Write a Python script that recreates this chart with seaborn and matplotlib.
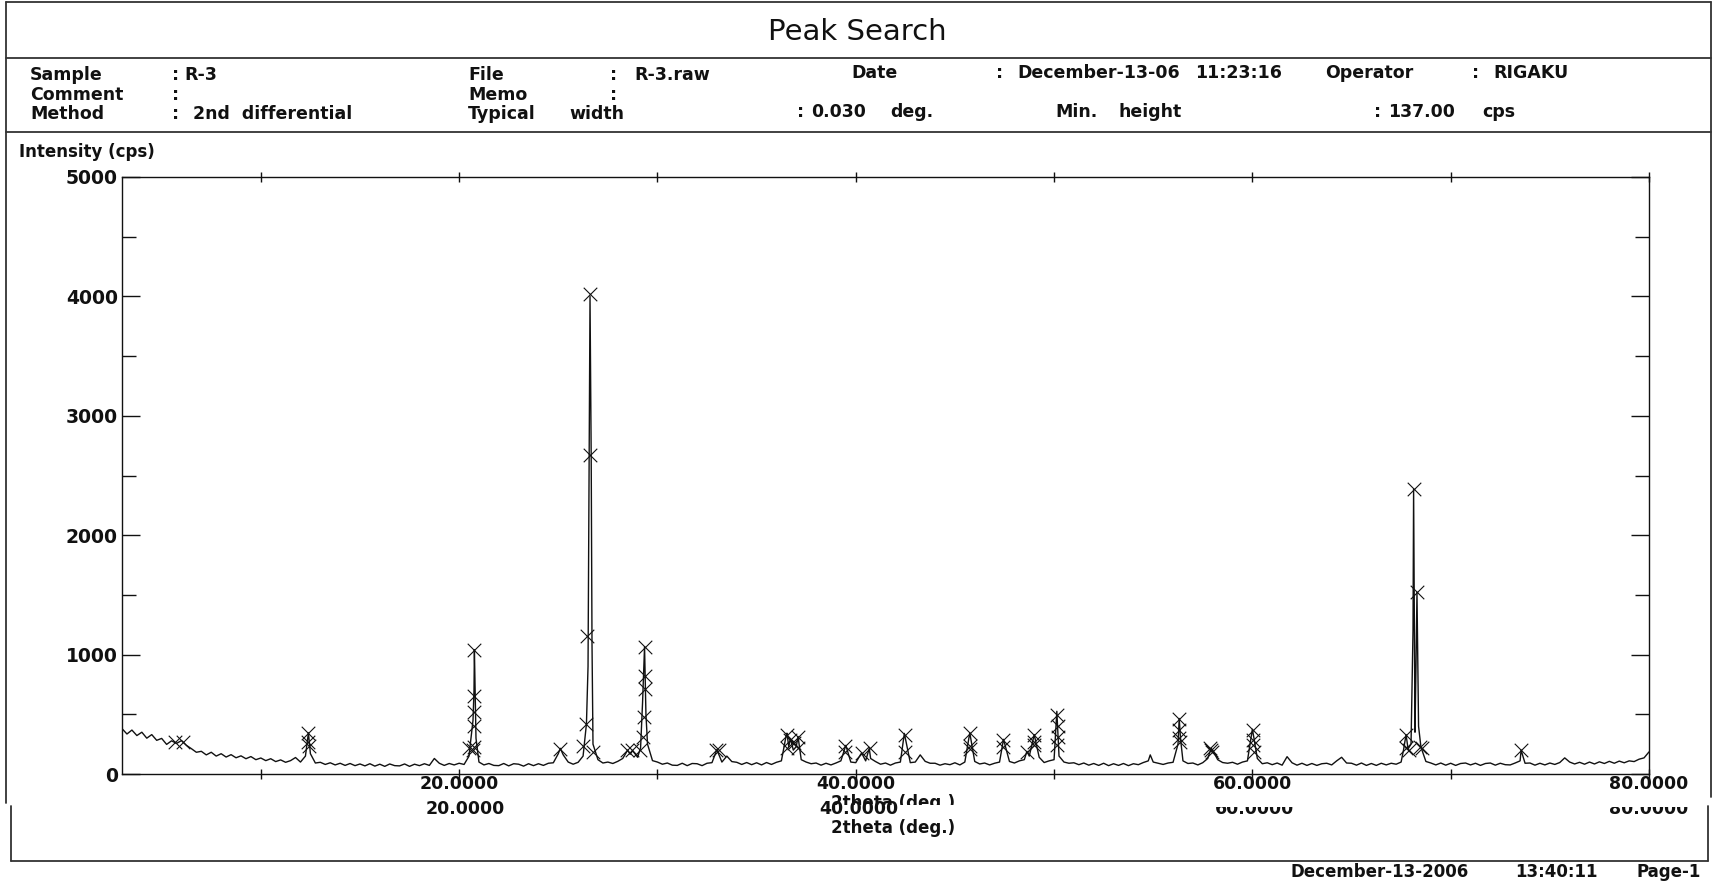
import numpy as np
import pandas as pd
import matplotlib
matplotlib.use("Agg")
import matplotlib.pyplot as plt
import seaborn as sns
from matplotlib.lines import Line2D
from matplotlib.transforms import Bbox, blended_transform_factory
from matplotlib.ticker import FixedLocator, FuncFormatter

# ---------------- data ----------------
# scan grid: 3.00 .. 80.00 deg, 0.25 deg steps (one row per degree)
grid_start = 3.0
grid_step = 0.25
baseline_cps = [
    380, 335, 368, 322,   # 3
    350, 300, 330, 282,   # 4
    298, 248, 278, 256,   # 5
    280, 240, 212, 182,   # 6
    190, 160, 182, 150,   # 7
    170, 142, 162, 136,   # 8
    152, 128, 146, 120,   # 9
    134, 112, 128, 104,   # 10
    118, 98, 112, 138,    # 11
    100, 150, 170, 92,    # 12
    98, 80, 94, 76,       # 13
    90, 72, 88, 70,       # 14
    84, 68, 86, 66,       # 15
    82, 64, 84, 70,       # 16
    68, 84, 64, 82,       # 17
    70, 86, 72, 130,      # 18
    90, 72, 88, 76,       # 19
    90, 80, 150, 700,     # 20
    100, 76, 88, 72,      # 21
    70, 88, 68, 86,       # 22
    82, 66, 86, 70,       # 23
    86, 72, 90, 94,       # 24
    170, 160, 100, 82,    # 25
    98, 150, 900, 250,    # 26
    120, 92, 100, 88,     # 27
    106, 130, 200, 195,   # 28
    140, 600, 250, 112,   # 29
    100, 82, 92, 74,      # 30
    72, 90, 70, 88,       # 31
    86, 70, 90, 95,       # 32
    205, 100, 150, 104,   # 33
    98, 80, 96, 78,       # 34
    94, 76, 96, 80,       # 35
    98, 110, 330, 270,    # 36
    230, 120, 100, 86,    # 37
    92, 74, 90, 76,       # 38
    92, 110, 240, 100,    # 39
    95, 165, 110, 130,    # 40
    104, 82, 92, 74,      # 41
    92, 100, 300, 95,     # 42
    100, 160, 106, 90,    # 43
    90, 74, 86, 78,       # 44
    94, 76, 100, 345,     # 45
    105, 84, 92, 76,      # 46
    90, 100, 260, 105,    # 47
    92, 110, 120, 150,    # 48
    330, 140, 96, 110,    # 49
    120, 150, 100, 90,    # 50
    94, 78, 92, 74,       # 51
    88, 72, 90, 70,       # 52
    86, 72, 88, 70,       # 53
    86, 78, 96, 110,      # 54
    100, 90, 80, 92,      # 55
    98, 250, 110, 88,     # 56
    92, 76, 95, 130,      # 57
    200, 120, 96, 90,     # 58
    98, 82, 100, 110,     # 59
    375, 130, 86, 94,     # 60
    78, 92, 74, 145,      # 61
    94, 74, 90, 72,       # 62
    88, 72, 86, 90,       # 63
    76, 110, 140, 92,     # 64
    90, 74, 92, 72,       # 65
    88, 72, 90, 76,       # 66
    90, 82, 100, 330,     # 67
    250, 900, 225, 105,   # 68
    92, 76, 92, 74,       # 69
    90, 72, 88, 92,       # 70
    76, 90, 72, 88,       # 71
    92, 74, 90, 78,       # 72
    76, 92, 110, 90,      # 73
    92, 74, 90, 76,       # 74
    92, 80, 96, 135,      # 75
    100, 84, 98, 82,      # 76
    100, 84, 102, 88,     # 77
    106, 90, 108, 94,     # 78
    110, 104, 124, 135,   # 79
    185,                  # 80
]

# extra points on the sharp reflections
peak_theta = [12.40, 20.55, 20.70, 20.77, 20.85, 25.10, 26.42, 26.60, 26.66, 26.70,
              28.62, 29.15, 29.35, 29.42, 33.08, 36.53, 36.62, 36.70, 36.85, 37.09,
              40.30, 40.68, 42.45, 47.45, 48.63, 50.14, 50.20, 54.85, 56.31, 56.38,
              57.92, 60.08, 67.62, 67.85, 68.10, 68.13, 68.20, 68.30, 68.38, 73.55]
peak_cps = [345, 230, 450, 1040, 300, 215, 420, 4000, 2650, 1100,
            165, 220, 1067, 500, 170, 342, 230, 286, 200, 314,
            175, 215, 340, 290, 190, 525, 330, 160, 465, 290,
            215, 300, 200, 210, 1200, 2387, 350, 1522, 400, 200]

# peak-search markers (x)
mark_theta = [5.68, 6.10, 12.40, 12.38, 12.42, 20.50, 20.77, 20.76, 20.75, 20.74,
              20.73, 20.72, 25.10, 26.60, 26.62, 26.44, 26.41, 26.27, 26.77, 28.46,
              28.71, 29.35, 29.38, 29.36, 29.31, 29.28, 29.13, 32.95, 33.10, 36.53,
              36.53, 36.70, 36.90, 37.09, 37.09, 39.47, 39.47, 40.30, 40.70, 42.49,
              42.49, 45.77, 45.77, 45.77, 47.45, 47.45, 48.63, 49.00, 49.00, 49.00,
              50.14, 50.20, 50.20, 50.14, 56.31, 56.31, 56.31, 56.36, 57.85, 57.92,
              57.98, 60.02, 60.05, 60.02, 60.08, 67.74, 67.74, 67.90, 68.13, 68.30,
              68.46, 68.55, 73.55]
mark_cps = [264, 264, 343, 265, 237, 216, 1039, 656, 522, 398,
            230, 202, 208, 4021, 2668, 1157, 421, 236, 188, 197,
            197, 1067, 820, 713, 474, 306, 199, 199, 199, 328,
            216, 286, 258, 314, 216, 236, 188, 174, 216, 328,
            188, 342, 236, 208, 286, 230, 188, 328, 272, 244,
            497, 399, 314, 244, 460, 371, 300, 264, 216, 200,
            185, 371, 286, 244, 188, 328, 216, 200, 2387, 1522,
            224, 216, 199]

x_tick_values = [20, 40, 60, 80]
x_minor_values = [10, 30, 50, 70]
y_tick_values = [0, 1000, 2000, 3000, 4000, 5000]
y_minor_values = [500, 1500, 2500, 3500, 4500]

# ---------------- assemble trace ----------------
grid_theta = grid_start + grid_step * np.arange(len(baseline_cps))
trace = pd.DataFrame({
    "two_theta": np.concatenate([grid_theta, np.array(peak_theta)]),
    "cps": np.concatenate([np.array(baseline_cps, float), np.array(peak_cps, float)]),
}).sort_values("two_theta").reset_index(drop=True)
marks = pd.DataFrame({"two_theta": mark_theta, "cps": mark_cps})

# ---------------- figure ----------------
sns.set_theme(style="white")
plt.rcParams["font.family"] = ["DejaVu Sans"]

W, H = 1731, 882
fig = plt.figure(figsize=(W / 100, H / 100), dpi=100)
fig.patch.set_facecolor("white")

INK = "#111111"


def fx(x):
    return x / W


def fy(y):
    return 1 - y / H


def ftext(x, y, s, size=12, weight="bold", ha="left", **kw):
    return fig.text(fx(x), fy(y), s, ha=ha, va="center", fontsize=size,
                    fontweight=weight, color=INK, **kw)


def fline(x0, y0, x1, y1, lw=1.3):
    fig.add_artist(Line2D([fx(x0), fx(x1)], [fy(y0), fy(y1)],
                          transform=fig.transFigure, color="#333333", lw=lw))


# page frame
fline(6, 2, 1711, 2)
fline(6, 2, 6, 803)
fline(1711, 2, 1711, 797)
fline(6, 58, 1711, 58)
fline(6, 132, 1711, 132)
# second (lower) frame of the scanned sheet
fline(11, 806, 11, 861)
fline(11, 861, 1708, 861)
fline(1708, 806, 1708, 861)

# title & header
ftext(857, 32, "Peak Search", size=21, weight="medium", ha="center")
hs = 12.5
ftext(30, 75, "Sample", hs)
ftext(172, 75, ":", hs)
ftext(184, 75, "R-3", hs)
ftext(468, 75, "File", hs)
ftext(610, 75, ":", hs)
ftext(634, 75, "R-3.raw", hs)
ftext(851, 73, "Date", hs)
ftext(996, 73, ":", hs)
ftext(1017, 73, "December-13-06", hs)
ftext(1195, 73, "11:23:16", hs)
ftext(1325, 73, "Operator", hs)
ftext(1472, 73, ":", hs)
ftext(1493, 73, "RIGAKU", hs)

ftext(30, 95, "Comment", hs)
ftext(172, 95, ":", hs)
ftext(468, 95, "Memo", hs)
ftext(610, 95, ":", hs)

ftext(30, 114, "Method", hs)
ftext(172, 114, ":", hs)
ftext(193, 114, "2nd  differential", hs)
ftext(468, 114, "Typical", hs)
ftext(569, 114, "width", hs)
ftext(797, 112, ":", hs)
ftext(811, 112, "0.030", hs)
ftext(890, 112, "deg.", hs)
ftext(1055, 112, "Min.", hs)
ftext(1118, 112, "height", hs)
ftext(1374, 112, ":", hs)
ftext(1388, 112, "137.00", hs)
ftext(1482, 112, "cps", hs)

ftext(19, 152, "Intensity (cps)", 12)

# footer
ftext(1290, 872, "December-13-2006", 12)
ftext(1515, 872, "13:40:11", 12)
ftext(1637, 872, "Page-1", 12)

# ---------------- axes ----------------
ax_l, ax_r, ax_t, ax_b = 122, 1649, 177, 774
ax = fig.add_axes([fx(ax_l), fy(ax_b), (ax_r - ax_l) / W, (ax_b - ax_t) / H])
ax.set_facecolor("white")

sns.lineplot(data=trace, x="two_theta", y="cps", ax=ax, color=INK,
             linewidth=1.0, estimator=None, sort=True)
sns.scatterplot(data=marks, x="two_theta", y="cps", ax=ax, marker="x", s=95,
                color=INK, linewidth=0.8, zorder=3)

ax.set_xlim(3, 80)
ax.set_ylim(0, 5000)
ax.set_xlabel("")
ax.set_ylabel("")

ax.xaxis.set_major_locator(FixedLocator(x_tick_values))
ax.xaxis.set_minor_locator(FixedLocator(x_minor_values))
ax.xaxis.set_major_formatter(FuncFormatter(lambda v, p: f"{v:.4f}"))
ax.yaxis.set_major_locator(FixedLocator(y_tick_values))
ax.yaxis.set_minor_locator(FixedLocator(y_minor_values))
ax.yaxis.set_major_formatter(FuncFormatter(lambda v, p: f"{int(v)}"))

ax.tick_params(axis="x", which="both", direction="inout", length=7, width=1,
               top=True, bottom=True, color=INK, pad=-2.5,
               labelsize=12.5, labelcolor=INK)
ax.tick_params(axis="y", which="major", direction="in", length=13, width=1,
               left=True, right=True, color=INK, pad=3,
               labelsize=13.5, labelcolor=INK)
ax.tick_params(axis="y", which="minor", direction="in", length=10, width=1,
               left=True, right=True, color=INK)
for lab in ax.get_xticklabels() + ax.get_yticklabels():
    lab.set_fontweight("bold")
for sp in ax.spines.values():
    sp.set_color(INK)
    sp.set_linewidth(1.0)

# duplicated labels from the overlapping second sheet of the scan
bt = blended_transform_factory(ax.transData, fig.transFigure)
dup_offsets = {20: 0.33, 40: 0.17, 60: 0.1, 80: 0.0}
for v in x_tick_values:
    t = ax.text(v + dup_offsets[v], fy(809), f"{v:.4f}", transform=bt,
                ha="center", va="center", fontsize=12.5, fontweight="bold",
                color=INK, clip_on=False)
    if v >= 60:
        t.set_clip_on(True)
        t.set_clip_box(Bbox.from_extents(0, 0, W, H - 807))

t1 = ax.text(41.9, fy(803), "2theta (deg.)", transform=bt, ha="center",
             va="center", fontsize=12, fontweight="bold", color=INK)
t1.set_clip_on(True)
t1.set_clip_box(Bbox.from_extents(0, H - 805, W, H))
ax.text(41.9, fy(828), "2theta (deg.)", transform=bt, ha="center",
        va="center", fontsize=12, fontweight="bold", color=INK, clip_on=False)

fig.savefig("out.png", dpi=100, facecolor="white")
